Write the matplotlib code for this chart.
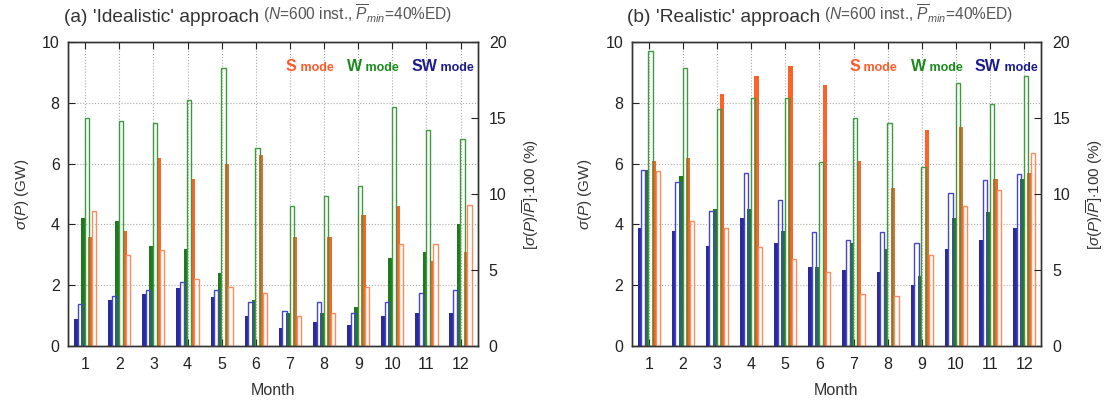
import numpy as np
import matplotlib.pyplot as plt

plt.rcParams['font.family'] = ['Liberation Sans', 'DejaVu Sans']
plt.rcParams['mathtext.fontset'] = 'custom'
plt.rcParams['mathtext.rm'] = 'Liberation Sans'
plt.rcParams['mathtext.it'] = 'Liberation Sans:italic'
plt.rcParams['mathtext.bf'] = 'Liberation Sans:bold'

months = np.arange(1, 13)

# (a) 'Idealistic' approach: sigma(P) in GW (filled) and sigma/mean*100 in % (open)
a_sw_gw = [0.9, 1.5, 1.7, 1.9, 1.6, 1.0, 0.6, 0.8, 0.7, 1.0, 1.1, 1.1]
a_sw_pct = [2.8, 3.3, 3.7, 4.2, 3.7, 2.9, 2.3, 2.9, 2.2, 2.9, 3.5, 3.7]
a_w_gw = [4.2, 4.1, 3.3, 3.2, 2.4, 1.5, 1.1, 1.1, 1.3, 2.9, 3.1, 4.0]
a_w_pct = [15.0, 14.8, 14.7, 16.2, 18.3, 13.0, 9.2, 9.9, 10.5, 15.7, 14.2, 13.6]
a_s_gw = [3.6, 3.8, 6.2, 5.5, 6.0, 6.3, 3.6, 3.6, 4.3, 4.6, 2.8, 3.1]
a_s_pct = [8.9, 6.0, 6.3, 4.4, 3.9, 3.5, 2.0, 2.2, 3.9, 6.7, 6.7, 9.3]

# (b) 'Realistic' approach
b_sw_gw = [3.9, 3.8, 3.3, 4.2, 3.4, 2.6, 2.5, 2.45, 2.0, 3.2, 3.5, 3.9]
b_sw_pct = [11.6, 10.8, 8.9, 11.4, 9.6, 7.5, 7.0, 7.5, 6.8, 10.1, 10.9, 11.3]
b_w_gw = [5.8, 5.6, 4.5, 4.5, 3.8, 2.6, 3.4, 3.2, 2.3, 4.2, 4.4, 5.5]
b_w_pct = [19.4, 18.3, 15.6, 16.3, 16.3, 12.1, 15.0, 14.7, 11.8, 17.3, 15.9, 17.8]
b_s_gw = [6.1, 6.2, 8.3, 8.9, 9.2, 8.6, 6.1, 5.2, 7.1, 7.2, 5.5, 5.7]
b_s_pct = [11.5, 8.2, 7.8, 6.5, 5.7, 4.9, 3.4, 3.3, 6.0, 9.2, 10.3, 12.7]

blue, blue_o = '#2a2a9e', '#4646c8'
green, green_o = '#1f7a1f', '#3f9a3f'
orange, orange_o = '#ff6226', '#ff8a5c'

fig = plt.figure(figsize=(11.16, 4.01), dpi=100)

offs = np.array([-0.2625, -0.1575, -0.0525, 0.0525, 0.1575, 0.2625])
w = 0.125


def panel(left, sw_gw, sw_pct, w_gw, w_pct, s_gw, s_pct, head):
    ax = fig.add_axes([left, 0.137, 0.367, 0.758])
    ax2 = ax.twinx()
    ax.set_axisbelow(True)
    ax.grid(True, linestyle=':', color='#aaaaaa', linewidth=0.8)

    ax.bar(months + offs[0], sw_gw, w, color=blue, linewidth=0)
    ax.bar(months + offs[2], w_gw, w, color=green, linewidth=0)
    ax.bar(months + offs[4], s_gw, w, color=orange, linewidth=0)
    ax2.bar(months + offs[1], sw_pct, w, facecolor='none', edgecolor=blue_o, linewidth=1.0)
    ax2.bar(months + offs[3], w_pct, w, facecolor='none', edgecolor=green_o, linewidth=1.0)
    ax2.bar(months + offs[5], s_pct, w, facecolor='none', edgecolor=orange_o, linewidth=1.0)

    ax.set_xlim(0.5, 12.5)
    ax.set_ylim(0, 10)
    ax2.set_ylim(0, 20)
    ax.set_xticks(months)
    ax.set_yticks([0, 2, 4, 6, 8, 10])
    ax2.set_yticks([0, 5, 10, 15, 20])
    ax.tick_params(axis='both', direction='in', length=5, labelsize=11.5, colors='#222222',
                   top=True, pad=8)
    ax.tick_params(axis='y', pad=6)
    ax2.tick_params(axis='y', direction='in', length=5, labelsize=11.5, colors='#222222', pad=8)
    for a in (ax, ax2):
        for sp in a.spines.values():
            sp.set_color('#333333')
            sp.set_linewidth(1.0)

    ax.set_xlabel('Month', fontsize=11.5, color='#333333', labelpad=8)
    ax.set_ylabel(r'$\sigma$($\it{P}$) (GW)', fontsize=11, color='#333333', labelpad=8)
    ax2.set_ylabel(r'[$\sigma$($\it{P}$)/$\overline{P}$]$\cdot$100 (%)', fontsize=11,
                   color='#333333', labelpad=10)

    # mode labels, big letter then smaller "mode" on the same baseline
    for x0, big, col in [(6.88, 'S', '#ff5a28'), (8.68, 'W', '#1a8a1a'), (10.55, 'SW', '#1c1c8c')]:
        t = ax.text(x0, 9.05, big, fontsize=11.5, fontweight='bold', color=col, va='baseline')
        ax.annotate(' mode', xy=(1, 9.05), xycoords=(t, 'data'), fontsize=9,
                    fontweight='bold', color=col, va='baseline')

    t1 = fig.text(left - 0.004, 0.935, head, fontsize=13.8, color='#333333', va='bottom')
    ax.annotate(r' ($\it{N}$=600 inst., $\overline{\it{P}}_{min}$=40%ED)', xy=(1, 0.06),
                xycoords=t1, fontsize=11.2, color='#555555', va='bottom')
    return ax


panel(0.061, a_sw_gw, a_sw_pct, a_w_gw, a_w_pct, a_s_gw, a_s_pct, "(a) 'Idealistic' approach")
panel(0.566, b_sw_gw, b_sw_pct, b_w_gw, b_w_pct, b_s_gw, b_s_pct, "(b) 'Realistic' approach")

fig.savefig('out.png', dpi=100)
